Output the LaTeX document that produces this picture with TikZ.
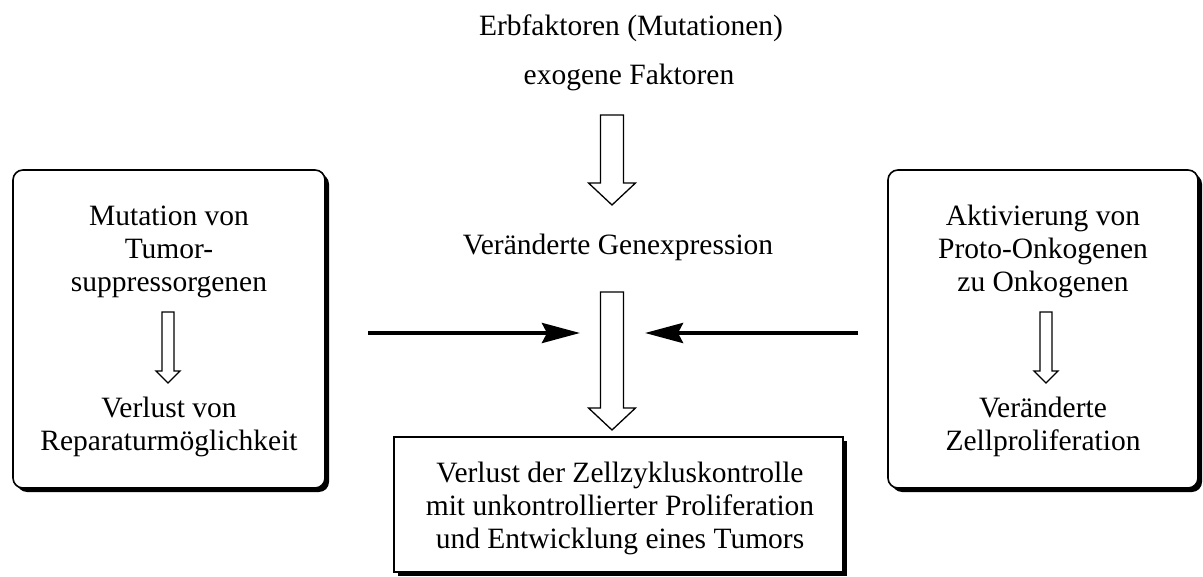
\documentclass[tikz,border=0pt]{standalone}
\usepackage{fontspec}
\setmainfont{Liberation Serif}
\usetikzlibrary{arrows.meta,calc,shadows}

% hollow block arrow: start, tip, half shaft, half head, head length
\newcommand{\hollowarrow}[5]{%
\draw[line width=1.3pt,line join=miter,fill=white]
  ($(#1)+(-#3,0)$) -- ($(#2)+(-#3,-#5)$) -- ($(#2)+(-#4,-#5)$) -- (#2)
  -- ($(#2)+(#4,-#5)$) -- ($(#2)+(#3,-#5)$) -- ($(#1)+(#3,0)$) -- cycle;
}

\begin{document}
\begin{tikzpicture}[x=1pt,y=-1pt,
  every node/.style={font=\fontsize{29.5}{33}\selectfont},
  txt/.style={align=center,inner sep=0pt},
  panel/.style={draw,line width=1.6pt,fill=white,
    drop shadow={fill=black,opacity=1,shadow xshift=4pt,shadow yshift=-4pt}},
  push/.style={line width=4pt,-{Stealth[length=38pt,width=20pt,inset=5pt]}}]
\useasboundingbox (0,0) rectangle (1203,577);

% boxes
\node[panel,rounded corners=10pt,minimum width=312pt,minimum height=318pt] (lbox) at (169,329) {};
\node[panel,rounded corners=10pt,minimum width=310pt,minimum height=318pt] (rbox) at (1043,329) {};
\node[panel,minimum width=449pt,minimum height=135pt] (zbox) at (618.5,504.5) {};

% texts (base = last line)
\node[txt,anchor=base] (erb) at (631,36) {Erbfaktoren (Mutationen)};
\node[txt,anchor=base] (exo) at (629,85) {exogene Faktoren};
\node[txt,anchor=base] (gen) at (618,255) {Veränderte Genexpression};
\node[txt,anchor=base] (mut) at (169,292) {Mutation von\\Tumor-\\suppressorgenen};
\node[txt,anchor=base] (rep) at (169,450) {Verlust von\\Reparaturmöglichkeit};
\node[txt,anchor=base] (akt) at (1043,292) {Aktivierung von\\Proto-Onkogenen\\zu Onkogenen};
\node[txt,anchor=base] (zel) at (1043,450) {Veränderte\\Zellproliferation};
\node[txt,anchor=base] (tum) at (620,548) {Verlust der Zellzykluskontrolle\\mit unkontrollierter Proliferation\\und Entwicklung eines Tumors};

% block arrows
\coordinate (g1) at (612,115);
\coordinate (g2) at (612,205);
\hollowarrow{g1}{g2}{11.5}{23.5}{22}
\coordinate (z1) at (612,292);
\coordinate (z2) at (612,430);
\hollowarrow{z1}{z2}{11.5}{23.5}{22}
\coordinate (m1) at (168,312);
\coordinate (m2) at (168,383);
\hollowarrow{m1}{m2}{6}{12}{12}
\coordinate (a1) at (1046,312);
\coordinate (a2) at (1046,383);
\hollowarrow{a1}{a2}{6}{12}{12}

% side arrows
\coordinate (lin) at (368,333);
\coordinate (lout) at (580,333);
\coordinate (rin) at (858,333);
\coordinate (rout) at (645,333);
\draw[push] (lin) -- (lout);
\draw[push] (rin) -- (rout);
\end{tikzpicture}
\end{document}
